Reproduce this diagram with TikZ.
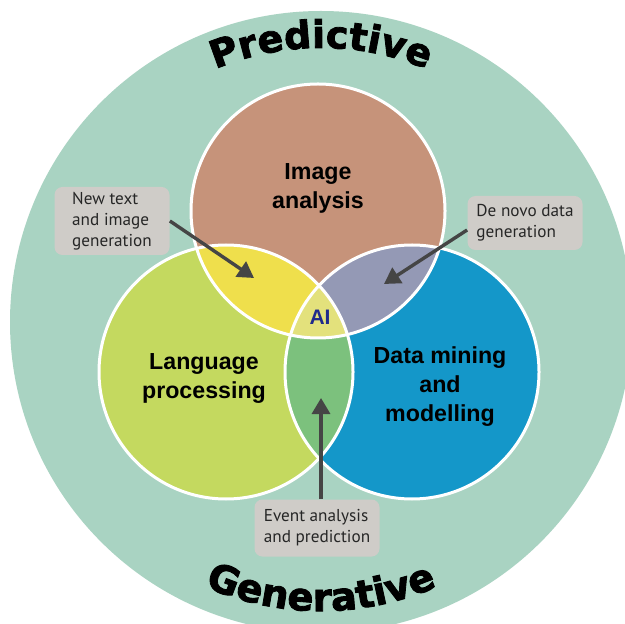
\documentclass[tikz,border=0pt]{standalone}
\usepackage{fontspec}
\setmainfont{PT Sans}
\newfontfamily\labelfont{Liberation Sans}
\newfontfamily\headfont{DejaVu Sans}[BoldFeatures={FakeBold=2.2}]
\usetikzlibrary{arrows.meta,decorations.text}

\definecolor{ring}{HTML}{A9D3C2}
\definecolor{imgfill}{HTML}{C6937A}
\definecolor{langfill}{HTML}{C4D95F}
\definecolor{datafill}{HTML}{1497C9}
\definecolor{imglang}{HTML}{EFDF4C}
\definecolor{imgdata}{HTML}{9499B5}
\definecolor{langdata}{HTML}{7CC17D}
\definecolor{allthree}{HTML}{E3E17C}
\definecolor{calloutgray}{HTML}{CFCCC8}
\definecolor{arrowgray}{HTML}{454545}
\definecolor{aiblue}{HTML}{1F2A8C}

\newcommand{\rad}{127}

\begin{document}
\begin{tikzpicture}[x=0.5pt,y=0.5pt,
    setlabel/.style={font=\labelfont\bfseries\fontsize{11.6}{14.5}\selectfont, align=center},
    callout/.style={fill=calloutgray, rounded corners=4pt, align=left, inner sep=0pt,
      font=\fontsize{8.6}{10.5}\selectfont, text=black!85},
    pointer/.style={draw=arrowgray, line width=1.7pt, -{Triangle[length=8pt,width=9pt]}},
    rim/.style={draw=white, line width=1.5pt}]

    \useasboundingbox (0,0) rectangle (625,-624);

    % outer ring
    \coordinate (hub) at (321,-322);
    \fill[ring] (hub) circle[radius=311];

    \path[decorate, decoration={text along path, text align=center,
        text={|\headfont\bfseries\fontsize{19}{20}\selectfont|Predictive}}]
        (hub) ++(160:274) arc[start angle=160, end angle=20, radius=274];
    \path[decorate, decoration={text along path, text align=center,
        text={|\headfont\bfseries\fontsize{19.3}{20}\selectfont|Generative}}]
        (hub) ++(200:289) arc[start angle=200, end angle=340, radius=289];

    % the three sets
    \coordinate (img) at (318,-211);
    \coordinate (lang) at (226,-372);
    \coordinate (data) at (412,-372);
    \fill[imgfill] (img) circle[radius=\rad];
    \fill[langfill] (lang) circle[radius=\rad];
    \fill[datafill] (data) circle[radius=\rad];

    % overlaps
    \begin{scope}
        \clip (img) circle[radius=\rad];
        \fill[imglang] (lang) circle[radius=\rad];
        \fill[imgdata] (data) circle[radius=\rad];
    \end{scope}
    \begin{scope}
        \clip (lang) circle[radius=\rad];
        \fill[langdata] (data) circle[radius=\rad];
        \clip (data) circle[radius=\rad];
        \fill[allthree] (img) circle[radius=\rad];
    \end{scope}

    \draw[rim] (img) circle[radius=\rad];
    \draw[rim] (lang) circle[radius=\rad];
    \draw[rim] (data) circle[radius=\rad];

    \node[setlabel] (imglabel) at (318,-188.5) {Image\\analysis};
    \node[setlabel] (langlabel) at (204,-378) {Language\\processing};
    \node[setlabel] (datalabel) at (440,-386.5) {Data mining\\and\\modelling};
    \node[font=\labelfont\bfseries\fontsize{10.5}{12}\selectfont, text=aiblue] (ai) at (320,-317) {AI};

    % callouts
    \node[callout, minimum width=57.5pt, minimum height=34pt] (newtext) at (112,-221) {New text\\and image\\generation};
    \node[callout, minimum width=57.5pt, minimum height=27pt] (denovo) at (525,-223) {De novo data\\generation};
    \node[callout, minimum width=62.5pt, minimum height=28.5pt] (event) at (317,-528) {Event analysis\\and prediction};

    \coordinate (tipA) at (254,-278);
    \coordinate (tipB) at (384,-284);
    \coordinate (tipC) at (321,-398);
    \draw[pointer] (newtext.east) -- (tipA);
    \draw[pointer] ([yshift=-3.5pt]denovo.west) -- (tipB);
    \draw[pointer] ([xshift=2pt]event.north) -- (tipC);
\end{tikzpicture}
\end{document}
